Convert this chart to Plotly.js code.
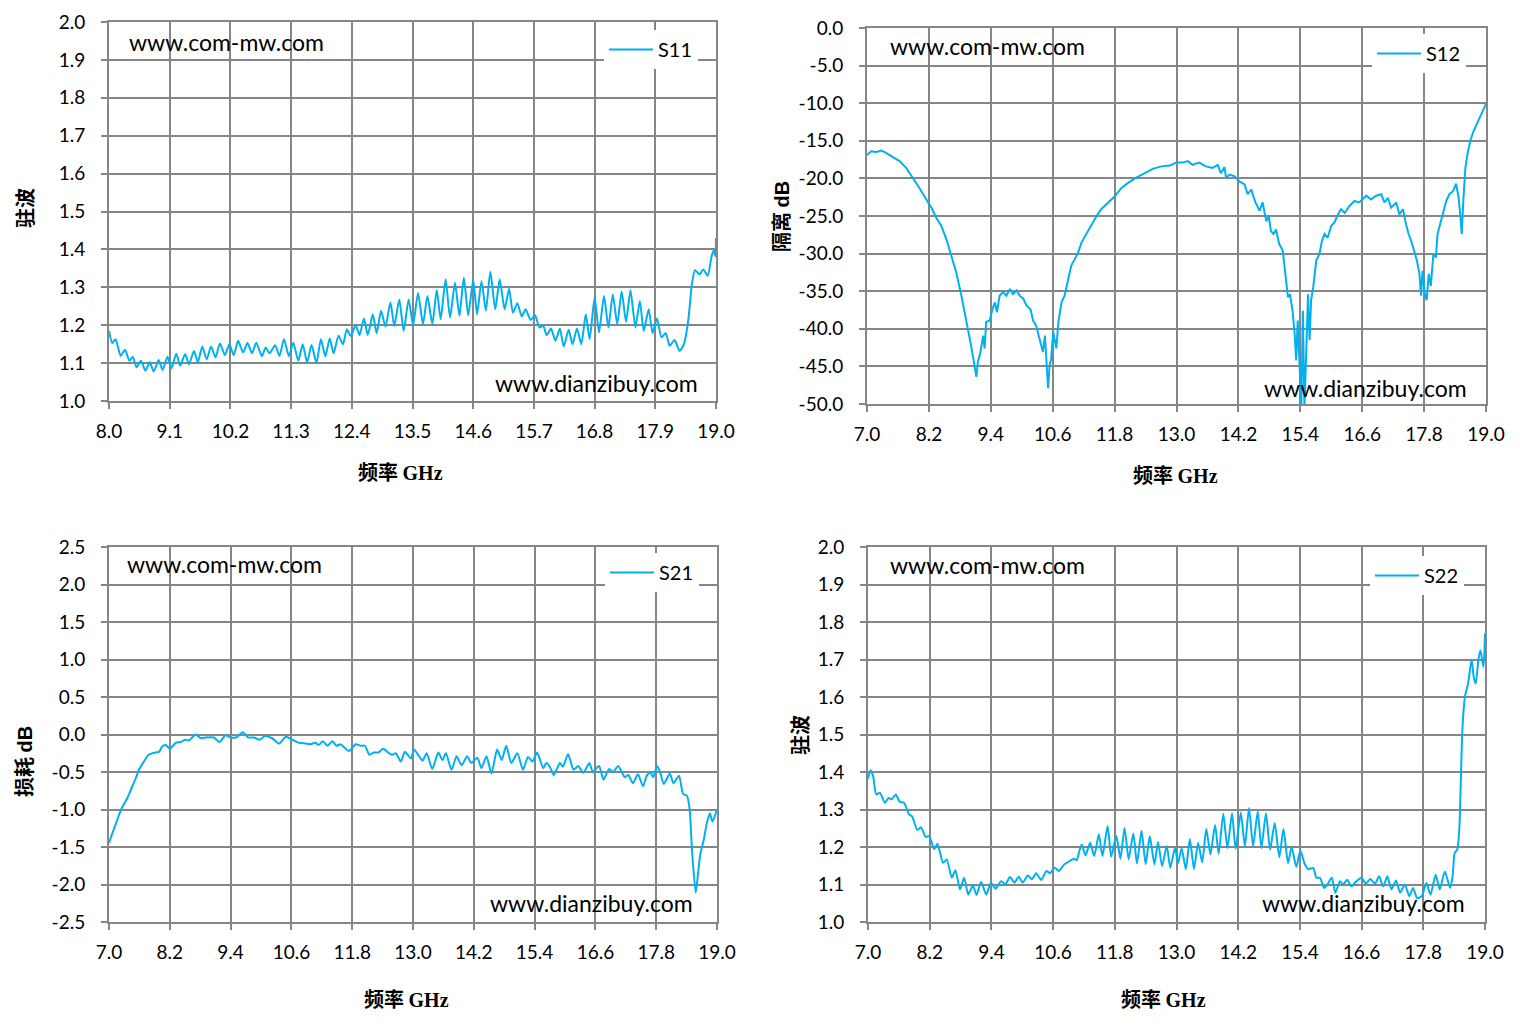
<!DOCTYPE html>
<html>
<head>
<meta charset="utf-8">
<script src="https://cdn.plot.ly/plotly-3.0.1.min.js"></script>
<style>
  html, body { margin: 0; padding: 0; background: #ffffff; }
  #chart { width: 1520px; height: 1033px; }
</style>
</head>
<body>
<div id="chart"></div>
<script>
/* ── 1. DATA ──────────────────────────────────────────────── */

// S11 驻波, 8-19 GHz
const s11Freq = [
  8.00, 8.06, 8.12, 8.21, 8.29, 8.37, 8.43, 8.50, 8.58, 8.66,
  8.74, 8.81, 8.90, 8.97, 9.06, 9.13, 9.22, 9.29, 9.38, 9.45,
  9.54, 9.61, 9.69, 9.77, 9.85, 9.93, 10.01, 10.10, 10.18, 10.26,
  10.34, 10.43, 10.51, 10.59, 10.67, 10.77, 10.84, 10.91, 11.01, 11.09,
  11.17, 11.26, 11.34, 11.43, 11.51, 11.59, 11.67, 11.76, 11.84, 11.92,
  12.00, 12.07, 12.16, 12.24, 12.31, 12.38, 12.47, 12.54, 12.62, 12.69,
  12.78, 12.85, 12.93, 13.01, 13.10, 13.17, 13.26, 13.34, 13.43, 13.51,
  13.60, 13.69, 13.77, 13.86, 13.94, 14.01, 14.10, 14.18, 14.27, 14.35,
  14.43, 14.51, 14.60, 14.67, 14.75, 14.83, 14.91, 15.00, 15.08, 15.17,
  15.25, 15.32, 15.40, 15.48, 15.55, 15.64, 15.72, 15.80, 15.87, 15.93,
  16.01, 16.09, 16.17, 16.24, 16.33, 16.40, 16.48, 16.56, 16.64, 16.71,
  16.80, 16.88, 16.97, 17.05, 17.13, 17.21, 17.29, 17.37, 17.45, 17.54,
  17.62, 17.69, 17.78, 17.85, 17.93, 18.01, 18.09, 18.16, 18.25, 18.34,
  18.42, 18.50, 18.56, 18.62, 18.70, 18.77, 18.85, 18.92, 18.96, 18.99,
  19.00
];
const s11Vswr = [
  1.185, 1.153, 1.163, 1.119, 1.135, 1.106, 1.117, 1.089, 1.106, 1.080,
  1.102, 1.078, 1.108, 1.082, 1.117, 1.086, 1.125, 1.093, 1.124, 1.097,
  1.132, 1.102, 1.144, 1.110, 1.144, 1.115, 1.152, 1.121, 1.150, 1.121,
  1.159, 1.128, 1.153, 1.126, 1.154, 1.118, 1.141, 1.126, 1.147, 1.119,
  1.163, 1.119, 1.154, 1.106, 1.150, 1.102, 1.148, 1.100, 1.163, 1.118,
  1.165, 1.126, 1.172, 1.150, 1.189, 1.172, 1.200, 1.174, 1.218, 1.174,
  1.229, 1.179, 1.238, 1.196, 1.260, 1.198, 1.268, 1.185, 1.268, 1.200,
  1.285, 1.203, 1.277, 1.203, 1.293, 1.216, 1.321, 1.220, 1.312, 1.225,
  1.325, 1.226, 1.319, 1.229, 1.316, 1.238, 1.341, 1.242, 1.321, 1.242,
  1.296, 1.233, 1.258, 1.223, 1.242, 1.214, 1.226, 1.194, 1.198, 1.174,
  1.191, 1.159, 1.191, 1.144, 1.188, 1.150, 1.191, 1.150, 1.229, 1.163,
  1.273, 1.181, 1.277, 1.194, 1.281, 1.203, 1.289, 1.209, 1.292, 1.194,
  1.264, 1.185, 1.242, 1.179, 1.218, 1.168, 1.179, 1.146, 1.161, 1.132,
  1.150, 1.216, 1.304, 1.346, 1.334, 1.347, 1.330, 1.382, 1.398, 1.382,
  1.430
];

// S12 隔离 dB, 7-19 GHz
const s12Freq = [
  7.00, 7.08, 7.18, 7.28, 7.37, 7.50, 7.63, 7.76, 7.89, 8.02,
  8.15, 8.25, 8.34, 8.44, 8.54, 8.64, 8.73, 8.83, 8.91, 8.98,
  9.04, 9.09, 9.12, 9.15, 9.20, 9.25, 9.28, 9.31, 9.38, 9.43,
  9.48, 9.52, 9.57, 9.64, 9.70, 9.77, 9.83, 9.90, 9.96, 10.03,
  10.09, 10.17, 10.22, 10.28, 10.35, 10.41, 10.45, 10.48, 10.51, 10.54,
  10.57, 10.61, 10.67, 10.71, 10.77, 10.83, 10.90, 10.96, 11.03, 11.09,
  11.16, 11.25, 11.35, 11.45, 11.54, 11.67, 11.80, 11.93, 12.06, 12.22,
  12.38, 12.55, 12.71, 12.87, 13.00, 13.12, 13.22, 13.31, 13.44, 13.57,
  13.70, 13.80, 13.86, 13.93, 13.96, 14.03, 14.12, 14.22, 14.32, 14.38,
  14.45, 14.53, 14.61, 14.67, 14.74, 14.79, 14.83, 14.88, 14.93, 14.99,
  15.06, 15.11, 15.16, 15.20, 15.25, 15.29, 15.32, 15.35, 15.38, 15.42,
  15.45, 15.48, 15.51, 15.55, 15.58, 15.61, 15.65, 15.71, 15.77, 15.82,
  15.87, 15.93, 16.00, 16.06, 16.13, 16.19, 16.26, 16.35, 16.45, 16.54,
  16.68, 16.77, 16.87, 16.97, 17.03, 17.10, 17.16, 17.26, 17.32, 17.39,
  17.45, 17.50, 17.55, 17.61, 17.66, 17.71, 17.74, 17.77, 17.81, 17.85,
  17.89, 17.93, 17.98, 18.03, 18.06, 18.11, 18.16, 18.23, 18.29, 18.36,
  18.42, 18.47, 18.50, 18.53, 18.56, 18.60, 18.65, 18.70, 18.76, 18.81,
  18.88, 18.93, 19.00
];
const s12Iso = [
  -16.9, -16.4, -16.5, -16.3, -16.6, -17.1, -17.7, -18.6, -19.9, -21.3,
  -22.8, -23.9, -25.2, -26.3, -28.1, -30.3, -32.5, -35.6, -38.7, -40.9,
  -43.1, -45.1, -46.4, -44.4, -43.1, -40.9, -42.6, -39.1, -38.9, -37.4,
  -36.5, -37.8, -35.6, -35.1, -35.6, -34.7, -35.4, -34.9, -35.6, -36.0,
  -36.9, -37.4, -38.9, -39.6, -41.3, -43.1, -40.9, -45.3, -47.9, -44.9,
  -44.0, -40.4, -42.6, -39.1, -36.5, -35.6, -33.4, -31.6, -30.7, -29.9,
  -28.5, -27.4, -26.3, -25.0, -24.1, -23.2, -22.4, -21.3, -20.6, -19.9,
  -19.3, -18.7, -18.4, -18.3, -17.9, -17.9, -17.7, -18.2, -17.9, -18.4,
  -18.6, -18.2, -19.3, -18.5, -19.9, -19.5, -19.7, -20.4, -20.8, -22.1,
  -21.5, -23.2, -24.3, -23.2, -25.7, -25.0, -27.0, -27.4, -26.8, -28.7,
  -29.6, -33.1, -35.8, -35.4, -37.6, -40.6, -44.2, -38.9, -43.3, -50.5,
  -37.6, -50.5, -44.2, -35.4, -41.5, -36.2, -34.5, -30.9, -30.1, -28.3,
  -27.4, -27.9, -26.3, -25.9, -24.8, -24.1, -24.6, -23.7, -23.0, -23.2,
  -22.3, -22.8, -22.3, -22.1, -23.2, -22.6, -23.9, -23.2, -24.8, -24.1,
  -26.1, -27.4, -28.3, -29.6, -30.9, -32.7, -35.6, -32.3, -35.2, -36.2,
  -32.7, -34.3, -30.1, -30.5, -27.4, -26.1, -24.8, -23.0, -22.1, -21.7,
  -20.7, -22.6, -24.8, -27.4, -23.0, -18.6, -16.4, -14.9, -13.7, -12.9,
  -12.0, -11.1, -10.1
];

// S21 损耗 dB, 7-19 GHz
const s21Freq = [
  7.00, 7.07, 7.13, 7.20, 7.26, 7.36, 7.46, 7.53, 7.59, 7.69,
  7.78, 7.86, 7.92, 7.99, 8.05, 8.12, 8.20, 8.32, 8.41, 8.50,
  8.58, 8.71, 8.81, 8.91, 9.07, 9.18, 9.30, 9.40, 9.51, 9.64,
  9.75, 9.86, 9.97, 10.08, 10.22, 10.36, 10.49, 10.62, 10.75, 10.88,
  10.98, 11.07, 11.14, 11.22, 11.31, 11.41, 11.49, 11.57, 11.67, 11.74,
  11.87, 11.97, 12.05, 12.14, 12.23, 12.32, 12.41, 12.49, 12.58, 12.66,
  12.76, 12.84, 12.96, 13.02, 13.12, 13.19, 13.27, 13.38, 13.50, 13.58,
  13.65, 13.76, 13.86, 13.96, 14.07, 14.15, 14.27, 14.35, 14.45, 14.55,
  14.66, 14.75, 14.84, 14.94, 15.06, 15.17, 15.27, 15.36, 15.45, 15.57,
  15.63, 15.70, 15.78, 15.90, 15.96, 16.06, 16.17, 16.26, 16.36, 16.48,
  16.55, 16.67, 16.76, 16.87, 16.95, 17.05, 17.18, 17.25, 17.34, 17.44,
  17.54, 17.62, 17.69, 17.74, 17.82, 17.88, 17.95, 18.07, 18.14, 18.25,
  18.33, 18.41, 18.46, 18.51, 18.58, 18.62, 18.67, 18.74, 18.80, 18.86,
  18.91, 19.00
];
const s21Loss = [
  -1.45, -1.31, -1.20, -1.07, -0.97, -0.85, -0.69, -0.58, -0.47, -0.36,
  -0.27, -0.25, -0.24, -0.23, -0.16, -0.14, -0.19, -0.11, -0.10, -0.07,
  -0.08, 0.00, -0.05, -0.04, -0.04, -0.10, -0.01, -0.04, -0.04, 0.03,
  -0.04, -0.04, -0.07, -0.02, -0.05, -0.12, -0.03, -0.07, -0.11, -0.12,
  -0.13, -0.11, -0.14, -0.09, -0.15, -0.09, -0.15, -0.13, -0.19, -0.22,
  -0.13, -0.15, -0.15, -0.27, -0.24, -0.24, -0.19, -0.23, -0.27, -0.25,
  -0.36, -0.23, -0.32, -0.20, -0.29, -0.35, -0.25, -0.46, -0.24, -0.34,
  -0.25, -0.47, -0.29, -0.41, -0.29, -0.38, -0.31, -0.45, -0.29, -0.52,
  -0.20, -0.34, -0.15, -0.38, -0.25, -0.47, -0.30, -0.36, -0.24, -0.45,
  -0.38, -0.43, -0.54, -0.38, -0.43, -0.26, -0.47, -0.42, -0.51, -0.38,
  -0.50, -0.42, -0.60, -0.46, -0.50, -0.42, -0.57, -0.54, -0.65, -0.53,
  -0.69, -0.54, -0.51, -0.57, -0.42, -0.51, -0.66, -0.52, -0.65, -0.55,
  -0.79, -0.82, -1.00, -1.58, -2.11, -1.89, -1.60, -1.40, -1.18, -1.05,
  -1.16, -1.00
];

// S22 驻波, 7-19 GHz
const s22Freq = [
  7.00, 7.05, 7.10, 7.16, 7.23, 7.33, 7.40, 7.46, 7.54, 7.62,
  7.70, 7.80, 7.86, 7.96, 8.03, 8.12, 8.19, 8.29, 8.35, 8.46,
  8.53, 8.63, 8.70, 8.79, 8.87, 8.95, 9.04, 9.11, 9.20, 9.30,
  9.39, 9.48, 9.59, 9.67, 9.76, 9.85, 9.93, 10.01, 10.11, 10.19,
  10.27, 10.37, 10.47, 10.54, 10.63, 10.71, 10.82, 10.92, 11.00, 11.06,
  11.12, 11.16, 11.23, 11.32, 11.40, 11.49, 11.56, 11.66, 11.73, 11.83,
  11.91, 11.99, 12.07, 12.16, 12.23, 12.32, 12.40, 12.48, 12.57, 12.64,
  12.72, 12.81, 12.88, 12.97, 13.03, 13.10, 13.18, 13.26, 13.34, 13.42,
  13.50, 13.58, 13.66, 13.75, 13.82, 13.91, 13.99, 14.08, 14.15, 14.25,
  14.33, 14.41, 14.49, 14.58, 14.65, 14.74, 14.82, 14.91, 15.00, 15.08,
  15.17, 15.24, 15.33, 15.41, 15.49, 15.56, 15.66, 15.72, 15.79, 15.87,
  15.92, 16.02, 16.09, 16.18, 16.24, 16.32, 16.40, 16.50, 16.60, 16.68,
  16.77, 16.86, 16.94, 17.02, 17.10, 17.18, 17.27, 17.35, 17.44, 17.53,
  17.60, 17.68, 17.77, 17.86, 17.94, 18.04, 18.12, 18.22, 18.32, 18.37,
  18.41, 18.46, 18.50, 18.53, 18.56, 18.61, 18.67, 18.74, 18.78, 18.82,
  18.87, 18.91, 18.97, 19.00
];
const s22Vswr = [
  1.382, 1.405, 1.389, 1.340, 1.345, 1.318, 1.331, 1.327, 1.340, 1.320,
  1.318, 1.287, 1.281, 1.245, 1.253, 1.227, 1.229, 1.194, 1.209, 1.158,
  1.167, 1.118, 1.138, 1.087, 1.118, 1.073, 1.098, 1.072, 1.107, 1.073,
  1.105, 1.089, 1.109, 1.100, 1.120, 1.105, 1.121, 1.105, 1.124, 1.114,
  1.130, 1.112, 1.136, 1.130, 1.145, 1.136, 1.154, 1.162, 1.169, 1.165,
  1.194, 1.207, 1.178, 1.211, 1.176, 1.234, 1.176, 1.256, 1.174, 1.229,
  1.169, 1.251, 1.167, 1.236, 1.156, 1.243, 1.154, 1.229, 1.154, 1.213,
  1.149, 1.203, 1.145, 1.198, 1.157, 1.197, 1.141, 1.221, 1.141, 1.211,
  1.159, 1.248, 1.180, 1.259, 1.182, 1.289, 1.197, 1.290, 1.195, 1.292,
  1.202, 1.304, 1.202, 1.295, 1.197, 1.290, 1.193, 1.264, 1.173, 1.248,
  1.157, 1.200, 1.147, 1.191, 1.156, 1.141, 1.144, 1.118, 1.118, 1.091,
  1.097, 1.118, 1.078, 1.109, 1.100, 1.113, 1.095, 1.109, 1.118, 1.102,
  1.115, 1.102, 1.122, 1.095, 1.122, 1.087, 1.111, 1.078, 1.100, 1.069,
  1.091, 1.064, 1.069, 1.104, 1.073, 1.126, 1.087, 1.135, 1.091, 1.122,
  1.184, 1.193, 1.246, 1.379, 1.512, 1.601, 1.636, 1.700, 1.654, 1.636,
  1.698, 1.725, 1.680, 1.770
];

// tick labels (hyphen minus, as in the original)
const tickX8  = [8.0, 9.1, 10.2, 11.3, 12.4, 13.5, 14.6, 15.7, 16.8, 17.9, 19.0];
const tickX8Text  = ["8.0", "9.1", "10.2", "11.3", "12.4", "13.5", "14.6", "15.7", "16.8", "17.9", "19.0"];
const tickX7  = [7.0, 8.2, 9.4, 10.6, 11.8, 13.0, 14.2, 15.4, 16.6, 17.8, 19.0];
const tickX7Text  = ["7.0", "8.2", "9.4", "10.6", "11.8", "13.0", "14.2", "15.4", "16.6", "17.8", "19.0"];
const tickVswr = [1.0, 1.1, 1.2, 1.3, 1.4, 1.5, 1.6, 1.7, 1.8, 1.9, 2.0];
const tickVswrText = ["1.0", "1.1", "1.2", "1.3", "1.4", "1.5", "1.6", "1.7", "1.8", "1.9", "2.0"];
const tickIso = [-50, -45, -40, -35, -30, -25, -20, -15, -10, -5, 0];
const tickIsoText = ["-50.0", "-45.0", "-40.0", "-35.0", "-30.0", "-25.0", "-20.0", "-15.0", "-10.0", "-5.0", "0.0"];
const tickLoss = [-2.5, -2.0, -1.5, -1.0, -0.5, 0.0, 0.5, 1.0, 1.5, 2.0, 2.5];
const tickLossText = ["-2.5", "-2.0", "-1.5", "-1.0", "-0.5", "0.0", "0.5", "1.0", "1.5", "2.0", "2.5"];


/* ── 2. THEME ─────────────────────────────────────────────── */
const W = 1520, H = 1033;
const px = x => x / W;
const py = y => 1 - y / H;

const colors = {
    line  : "#00b0f0",
    grid  : "#868686",
    text  : "#000000"
};
const latin = "Lato, 'Open Sans', sans-serif";
const cjk   = "'Noto Sans CJK SC', sans-serif";

const axisBase = {
    showgrid   : true,
    gridcolor  : colors.grid,
    gridwidth  : 2,
    showline   : true,
    mirror     : true,
    linecolor  : colors.grid,
    linewidth  : 2,
    zeroline   : false,
    ticks      : "outside",
    ticklen    : 6,
    tickwidth  : 2,
    tickcolor  : colors.grid,
    tickmode   : "array",
    tickfont   : { family: latin, size: 19, color: colors.text },
    fixedrange : true
};

function xAxis(domain, range, vals, text, anchor) {
    return { ...axisBase, domain, range, tickvals: vals, ticktext: text,
             anchor, ticklabelstandoff: 6 };
}
function yAxis(domain, range, vals, text, anchor) {
    return { ...axisBase, domain, range, tickvals: vals, ticktext: text,
             anchor, ticklabelstandoff: 12 };
}
function legendAt(x, y) {
    return {
        x: px(x), y: py(y), xanchor: "left", yanchor: "top",
        bgcolor: "#ffffff", borderwidth: 0, itemwidth: 44,
        font: { family: latin, size: 20, color: colors.text }
    };
}
function lineTrace(x, y, name, xa, ya, legend, shape) {
    return {
        x, y, name, xaxis: xa, yaxis: ya, legend,
        type: "scatter", mode: "lines",
        line: { color: colors.line, width: 2, shape, smoothing: 0.6 },
        hoverinfo: "skip"
    };
}

/* ── 3. TRACES ────────────────────────────────────────────── */
const traces = [
    lineTrace(s11Freq, s11Vswr, "S11", "x",  "y",  "legend",  "spline"),
    lineTrace(s12Freq, s12Iso,  "S12", "x2", "y2", "legend2", "linear"),
    lineTrace(s21Freq, s21Loss, "S21", "x3", "y3", "legend3", "spline"),
    lineTrace(s22Freq, s22Vswr, "S22", "x4", "y4", "legend4", "spline")
];

/* ── 4. TEXT: watermarks & axis titles ───────────────────── */
function note(text, x, y, xanchor, opts) {
    return {
        text, x: px(x), y: py(y), xref: "paper", yref: "paper",
        xanchor, yanchor: "middle", showarrow: false,
        font: { family: latin, size: 23, color: colors.text }, ...opts
    };
}
const cjkFont = { family: cjk, size: 20, color: colors.text, weight: "bold" };
const xTitle = "频率 <span style='font-family:Liberation Serif'>GHz</span>";

const annotations = [
    note("www.com-mw.com",    127, 42,  "left"),
    note("www.dianzibuy.com", 700, 383, "right"),
    note("www.com-mw.com",    888, 46,  "left"),
    note("www.dianzibuy.com", 1469, 388, "right"),
    note("www.com-mw.com",    125, 564, "left"),
    note("www.dianzibuy.com", 695, 903, "right"),
    note("www.com-mw.com",    888, 565, "left"),
    note("www.dianzibuy.com", 1467, 903, "right"),

    note(xTitle, 400, 471,  "center", { font: cjkFont }),
    note(xTitle, 1175, 474, "center", { font: cjkFont }),
    note(xTitle, 406, 998,  "center", { font: cjkFont }),
    note(xTitle, 1163, 998, "center", { font: cjkFont }),
    note("驻波", 24, 208, "center", { font: cjkFont, textangle: -90 }),
    note("隔离 <span style='font-family:Liberation Sans'>dB</span>", 780, 217, "center", { font: cjkFont, textangle: -90 }),
    note("损耗 <span style='font-family:Liberation Sans'>dB</span>", 23, 762, "center", { font: cjkFont, textangle: -90 }),
    note("驻波", 799, 735, "center", { font: cjkFont, textangle: -90 })
];

/* ── 5. LAYOUT ────────────────────────────────────────────── */
const layout = {
    width: W, height: H,
    margin: { l: 0, r: 0, t: 0, b: 0 },
    paper_bgcolor: "#ffffff",
    plot_bgcolor: "#ffffff",
    showlegend: true,

    xaxis:  xAxis([px(109), px(716)],  [8, 19], tickX8, tickX8Text, "y"),
    yaxis:  yAxis([py(401), py(22)],   [1, 2], tickVswr, tickVswrText, "x"),
    xaxis2: xAxis([px(867), px(1486)], [7, 19], tickX7, tickX7Text, "y2"),
    yaxis2: yAxis([py(404), py(28)],   [-50, 0], tickIso, tickIsoText, "x2"),
    xaxis3: xAxis([px(109), px(717)],  [7, 19], tickX7, tickX7Text, "y3"),
    yaxis3: yAxis([py(922), py(547)],  [-2.5, 2.5], tickLoss, tickLossText, "x3"),
    xaxis4: xAxis([px(868), px(1485)], [7, 19], tickX7, tickX7Text, "y4"),
    yaxis4: yAxis([py(922), py(547)],  [1, 2], tickVswr, tickVswrText, "x4"),

    legend:  legendAt(604, 30),
    legend2: legendAt(1372, 34),
    legend3: legendAt(605, 553),
    legend4: legendAt(1370, 556),

    annotations
};

Plotly.newPlot("chart", traces, layout, { displayModeBar: false, staticPlot: true });
</script>
</body>
</html>
